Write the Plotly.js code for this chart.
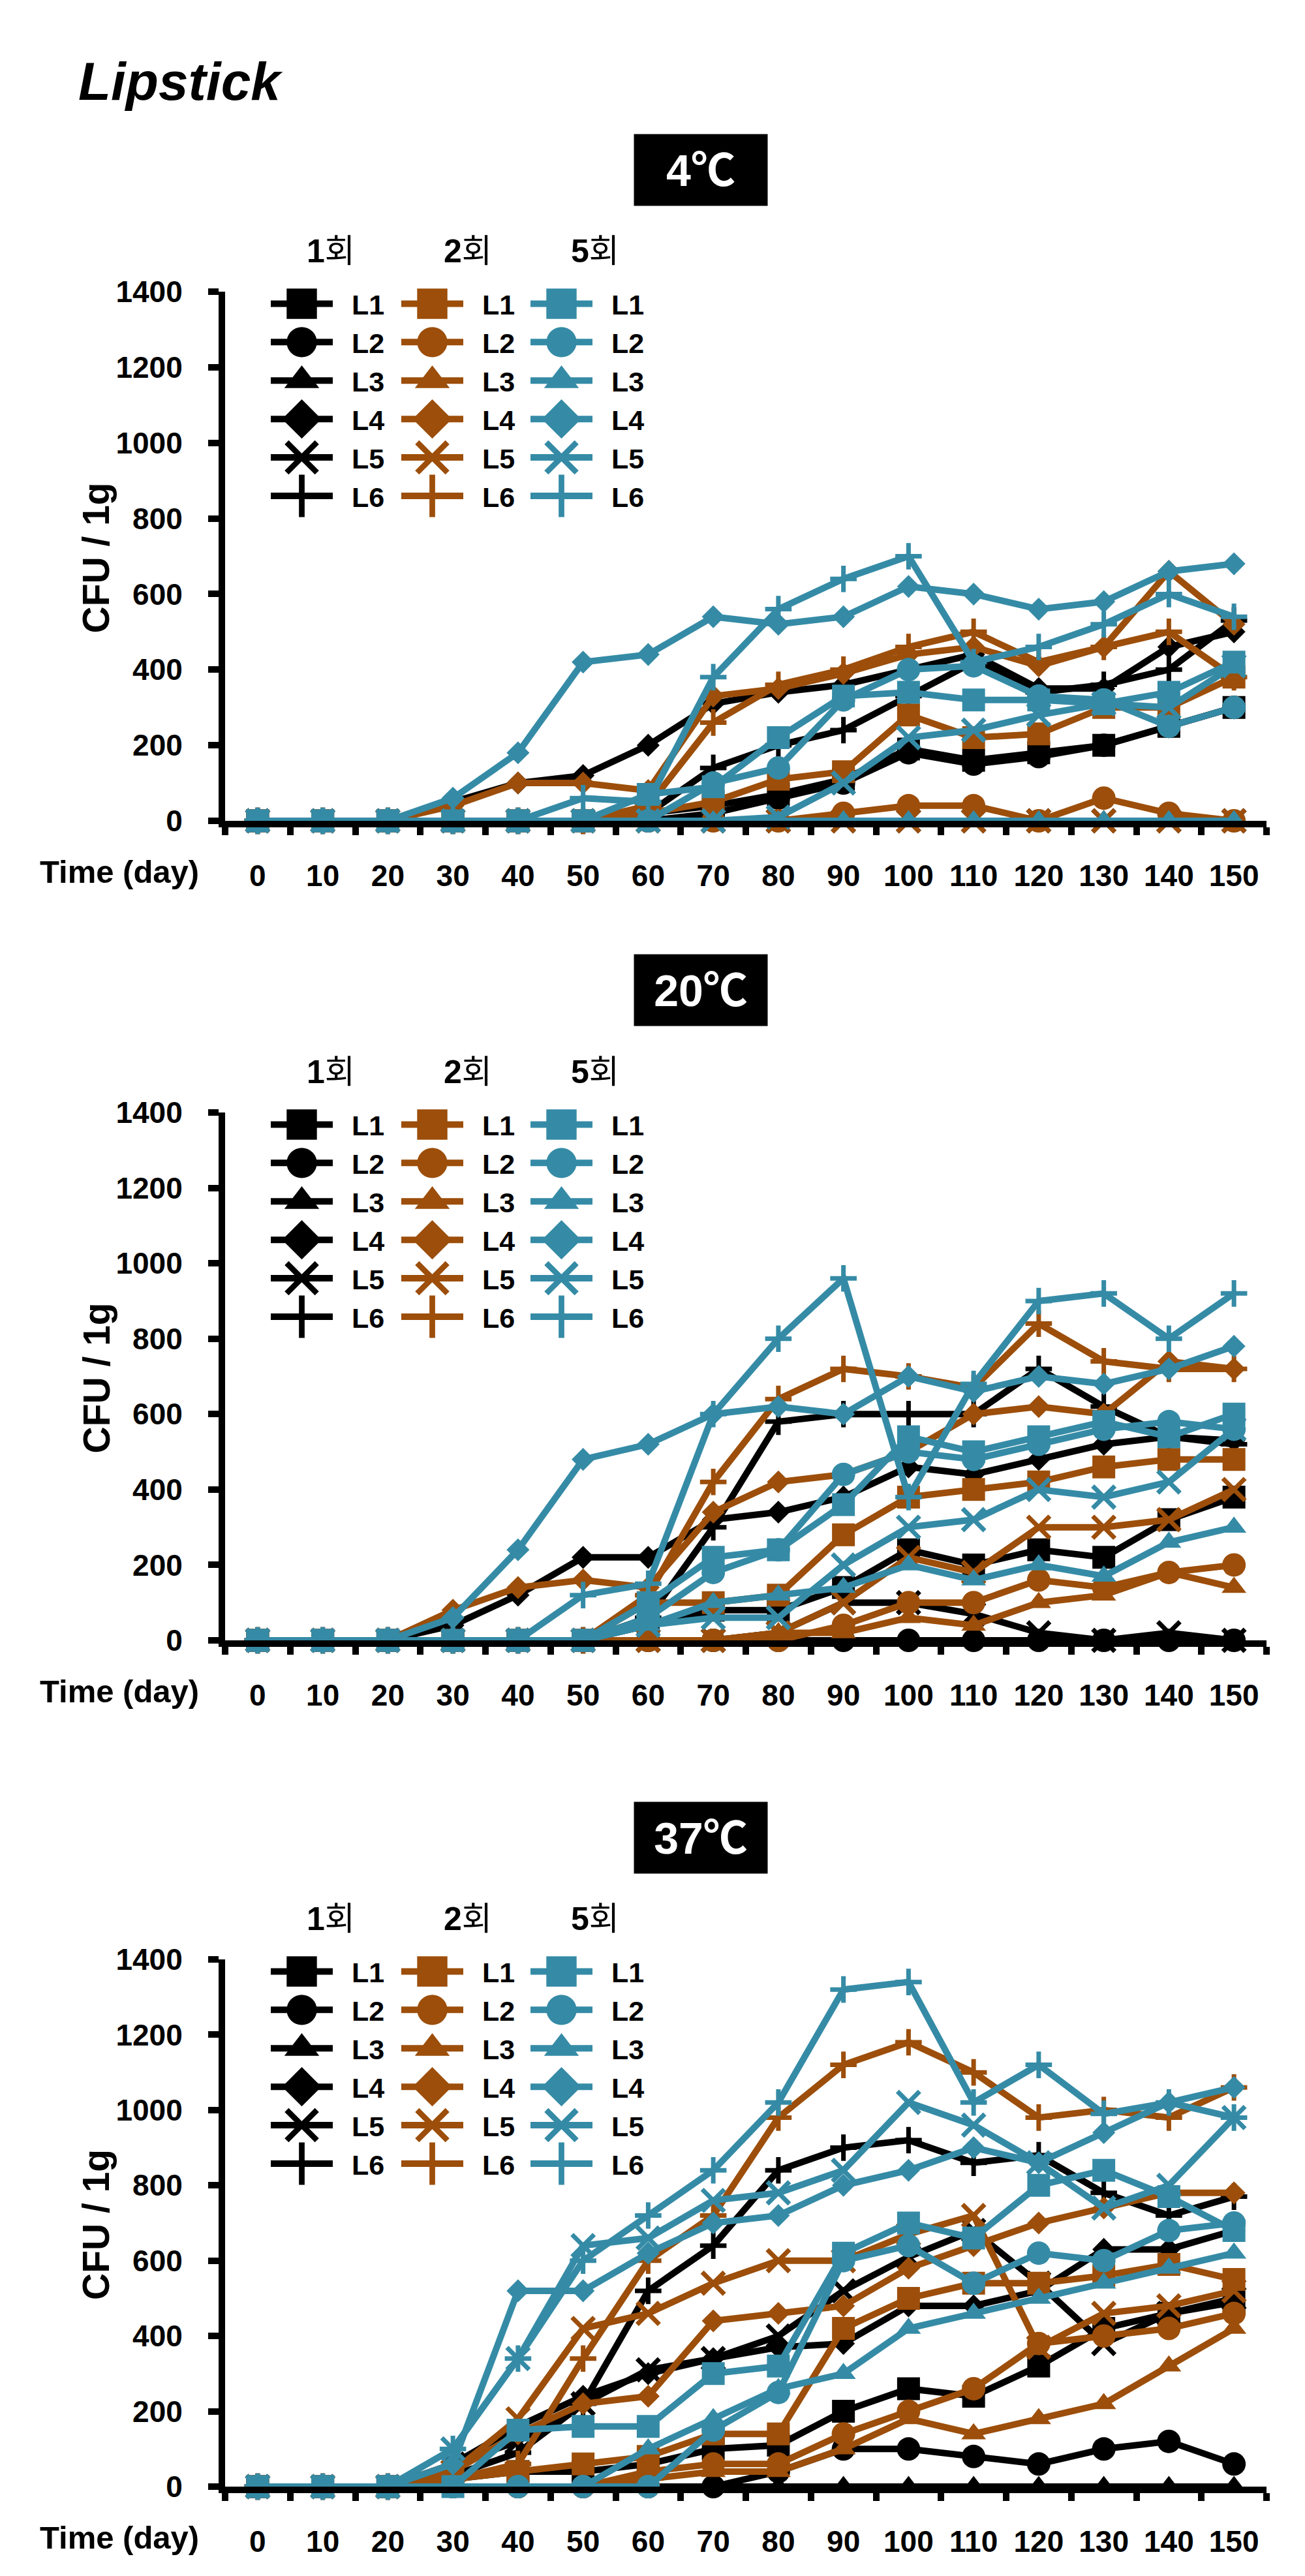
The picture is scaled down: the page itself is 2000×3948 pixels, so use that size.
<!DOCTYPE html>
<html><head><meta charset="utf-8">
<script src="https://cdn.plot.ly/plotly-3.0.1.min.js"></script>
<style>html,body{margin:0;padding:0;background:#fff;}#chart{width:2000px;height:3948px;}</style>
</head><body><div id="chart"></div>
<script>
// ---------------- data ----------------
const days = ['0','10','20','30','40','50','60','70','80','90','100','110','120','130','140','150'];
const seriesNames = ['L1','L2','L3','L4','L5','L6'];
const runLabels = ['1회','2회','5회'];
const panelTitles = ['4℃','20℃','37℃'];
const yTicks = [0,200,400,600,800,1000,1200,1400];

// 4 ℃
const d4c_r1 = [
  [0,0,0,0,0,0,20,40,70,110,190,160,180,200,250,300],
  [0,0,0,0,0,0,0,20,60,100,180,150,170,200,250,300],
  [0,0,0,0,0,0,0,0,0,0,0,0,0,0,0,0],
  [0,0,0,50,100,120,200,310,340,360,400,440,350,350,460,500],
  [0,0,0,0,0,0,0,0,0,0,0,0,0,0,0,0],
  [0,0,0,0,0,0,20,140,200,240,330,420,340,360,400,530]
];
const d4c_r2 = [
  [0,0,0,0,0,0,20,50,110,130,280,220,230,300,300,380],
  [0,0,0,0,0,0,0,0,0,20,40,40,0,60,20,0],
  [0,0,0,0,0,0,0,0,0,0,0,0,0,0,0,0],
  [0,0,0,40,100,100,80,330,350,390,440,460,410,460,660,520],
  [0,0,0,0,0,0,0,0,0,0,0,0,0,0,0,0],
  [0,0,0,0,0,0,40,260,360,400,460,500,420,460,500,380]
];
const d4c_r5 = [
  [0,0,0,0,0,0,70,90,220,330,340,320,320,310,340,420],
  [0,0,0,0,0,0,0,100,140,320,400,410,330,320,250,300],
  [0,0,0,0,0,0,0,0,0,0,0,0,0,0,0,0],
  [0,0,0,60,180,420,440,540,520,540,620,600,560,580,660,680],
  [0,0,0,0,0,0,0,0,10,100,220,240,280,310,300,410],
  [0,0,0,0,0,60,50,380,560,640,700,420,460,520,600,540]
];
// 20 ℃
const d20c_r1 = [
  [0,0,0,0,0,0,40,80,80,140,240,200,240,220,320,380],
  [0,0,0,0,0,0,0,0,0,0,0,0,0,0,0,0],
  [0,0,0,0,0,0,0,0,0,0,0,0,0,0,0,0],
  [0,0,0,40,120,220,220,320,340,380,460,440,480,520,540,530],
  [0,0,0,0,0,0,0,0,20,100,100,70,20,0,20,0],
  [0,0,0,0,0,0,60,300,580,600,600,600,720,620,540,520]
];
const d20c_r2 = [
  [0,0,0,0,0,0,100,100,120,280,380,400,420,460,480,480],
  [0,0,0,0,0,0,0,0,0,40,100,100,160,140,180,200],
  [0,0,0,0,0,0,0,0,20,20,60,40,100,120,180,140],
  [0,0,0,80,140,160,140,340,420,440,500,600,620,600,740,720],
  [0,0,0,0,0,0,0,0,20,100,220,180,300,300,320,400],
  [0,0,0,0,0,0,120,420,640,720,700,670,840,740,720,720]
];
const d20c_r5 = [
  [0,0,0,0,0,0,100,220,240,360,540,500,540,580,540,600],
  [0,0,0,0,0,0,60,180,240,440,500,480,520,560,580,560],
  [0,0,0,0,0,0,40,100,120,140,200,160,200,170,260,300],
  [0,0,0,60,240,480,520,600,620,600,700,660,700,680,720,780],
  [0,0,0,0,0,0,40,60,60,200,300,320,400,380,420,560],
  [0,0,0,0,0,120,150,600,800,960,380,680,900,920,800,920]
];
// 37 ℃
const d37c_r1 = [
  [0,0,0,20,40,40,60,100,110,200,260,240,320,420,460,490],
  [0,0,0,0,0,0,0,0,40,100,100,80,60,100,120,60],
  [0,0,0,0,0,0,0,0,0,0,0,0,0,0,0,0],
  [0,0,0,60,160,240,300,340,370,380,480,480,520,630,630,680],
  [0,0,0,60,120,220,310,340,400,520,610,680,540,380,460,500],
  [0,0,0,30,90,220,520,640,840,900,920,860,880,780,720,770]
];
const d37c_r2 = [
  [0,0,0,20,40,60,80,140,140,420,500,540,540,560,590,550],
  [0,0,0,0,0,0,40,60,60,140,200,260,380,400,420,460],
  [0,0,0,0,0,0,20,40,40,100,180,140,180,220,320,420],
  [0,0,0,40,140,220,240,440,460,480,580,640,700,740,780,780],
  [0,0,0,40,180,420,460,540,600,600,670,720,370,460,480,520],
  [0,0,0,20,60,340,600,720,980,1120,1180,1100,980,1000,980,1060]
];
const d37c_r5 = [
  [0,0,0,0,150,160,160,300,320,620,700,660,800,840,770,680],
  [0,0,0,0,0,0,0,150,250,600,640,540,620,600,680,700],
  [0,0,0,0,0,0,100,180,260,300,420,460,500,540,580,620],
  [0,0,0,60,520,520,620,700,720,800,840,900,860,940,1020,1060],
  [0,0,0,100,340,640,660,760,780,840,1020,960,860,740,800,980],
  [0,0,0,100,340,600,720,840,1020,1320,1340,1020,1120,990,1020,980]
];
const panelData = [[d4c_r1,d4c_r2,d4c_r5],[d20c_r1,d20c_r2,d20c_r5],[d37c_r1,d37c_r2,d37c_r5]];

// ---------------- styling ----------------
const W = 2000, H = 3948;
const runColors = ['#000000','#9C4E0A','#358BA6'];
const symbols = ['square','circle','triangle-up','diamond','x-thin','cross-thin'];
const symSizes = [35,36,33,27,34,29];
const FONT = 'Liberation Sans, Arial, "Noto Sans CJK KR", sans-serif';
const px = v => v / W;
const py = v => 1 - v / H;

const panelTop = [447, 1705, 3003];
const panelBot = [1258, 2514, 3811];
const plotLeft = 345, plotRight = 1941;

const traces = [];
const layout = {
  width: W, height: H,
  margin: {l:0, r:0, t:0, b:0},
  paper_bgcolor: '#fff', plot_bgcolor: '#fff',
  showlegend: true,
  font: {family: FONT, color: '#000'},
  annotations: []
};

panelData.forEach((runs, p) => {
  const xa = p === 0 ? 'x' : 'x' + (p + 1);
  const ya = p === 0 ? 'y' : 'y' + (p + 1);
  runs.forEach((rows, r) => {
    const legIdx = p * 3 + r;
    const legName = legIdx === 0 ? 'legend' : 'legend' + (legIdx + 1);
    rows.forEach((vals, l) => {
      const thin = l >= 4;
      traces.push({
        type: 'scatter', mode: 'lines+markers',
        x: days, y: vals, xaxis: xa, yaxis: ya,
        name: '\u00a0\u00a0' + seriesNames[l], legend: legName,
        cliponaxis: false,
        line: {color: runColors[r], width: 10},
        marker: {symbol: symbols[l], size: symSizes[l], color: runColors[r],
                 line: {color: runColors[r], width: thin ? 7 : 0}},
        hoverinfo: 'skip'
      });
    });
    const legLeft = [410, 610, 808][r];
    layout[legName] = {
      x: px(legLeft), xanchor: 'left', y: py(panelTop[p] - 16), yanchor: 'top',
      orientation: 'v', itemwidth: 95, tracegroupgap: 0,
      bgcolor: 'rgba(0,0,0,0)', borderwidth: 0,
      font: {family: FONT, size: 43, color: '#000', weight: 700},
      itemclick: false, itemdoubleclick: false
    };
  });

  const axKeyX = p === 0 ? 'xaxis' : 'xaxis' + (p + 1);
  const axKeyY = p === 0 ? 'yaxis' : 'yaxis' + (p + 1);
  layout[axKeyX] = {
    type: 'category', categoryorder: 'array', categoryarray: days,
    domain: [px(plotLeft), px(plotRight)], anchor: ya,
    range: [-0.5, days.length - 0.5], tickson: 'boundaries',
    ticks: 'outside', ticklen: 12, tickwidth: 10, tickcolor: '#000',
    showline: true, linewidth: 10, linecolor: '#000',
    showgrid: false, zeroline: false, ticklabelstandoff: 35,
    tickfont: {family: FONT, size: 46, color: '#000', weight: 700},
    fixedrange: true
  };
  layout[axKeyY] = {
    domain: [py(panelBot[p]), py(panelTop[p])], anchor: xa,
    range: [0, 1400], tickmode: 'array', tickvals: yTicks,
    ticks: 'outside', ticklen: 16, tickwidth: 10, tickcolor: '#000',
    showline: true, linewidth: 10, linecolor: '#000',
    showgrid: false, zeroline: false, ticklabelstandoff: 30,
    tickfont: {family: FONT, size: 46, color: '#000', weight: 700},
    fixedrange: true
  };

  const T = panelTop[p], B = panelBot[p];
  layout.annotations.push({
    xref: 'paper', yref: 'paper', x: px(1074), y: py(T - 187), xanchor: 'center', yanchor: 'middle',
    text: '<b>' + panelTitles[p] + '</b>', showarrow: false,
    font: {family: FONT, size: 68, color: '#fff'},
    bgcolor: '#000', width: 204, height: 109, borderpad: 0
  });
  [507, 717, 912].forEach((cx, r) => {
    const lab = runLabels[r];
    layout.annotations.push({
      xref: 'paper', yref: 'paper', x: px(cx), y: py(T - 62), xanchor: 'center', yanchor: 'middle',
      text: '<b>' + lab.slice(0, 1) + '</b>' + lab.slice(1), showarrow: false,
      font: {family: FONT, size: 50, color: '#000'}
    });
  });
  layout.annotations.push({
    xref: 'paper', yref: 'paper', x: px(147), y: py((T + B) / 2 + 3), xanchor: 'center', yanchor: 'middle',
    text: '<b>CFU / 1g</b>', textangle: -90, showarrow: false,
    font: {family: FONT, size: 57, color: '#000'}
  });
  layout.annotations.push({
    xref: 'paper', yref: 'paper', x: px(183), y: py(B + 78), xanchor: 'center', yanchor: 'middle',
    text: '<b>Time (day)</b>', showarrow: false,
    font: {family: FONT, size: 49, color: '#000'}
  });
});

layout.annotations.push({
  xref: 'paper', yref: 'paper', x: px(118), y: py(124), xanchor: 'left', yanchor: 'middle',
  text: '<b><i>Lipstick</i></b>', showarrow: false,
  font: {family: FONT, size: 82, color: '#000'}
});

function enlargeLegend() {
  document.querySelectorAll('.infolayer .legendpoints path.scatterpts').forEach(p => {
    let t = (p.getAttribute('transform') || '').replace(/\s*scale\([^)]*\)/g, '');
    p.setAttribute('transform', t + ' scale(2.9)');
    const d = p.getAttribute('d') || '';
    if (!/Z/i.test(d)) p.style.strokeWidth = '3px';
  });
  document.querySelectorAll('.infolayer .legendlines path').forEach(p => {
    p.style.strokeWidth = '10px';
  });
}

const gd = document.getElementById('chart');
Plotly.newPlot(gd, traces, layout, {displayModeBar: false, staticPlot: true}).then(() => {
  enlargeLegend();
  gd.on && gd.on('plotly_afterplot', enlargeLegend);
});
</script></body></html>
